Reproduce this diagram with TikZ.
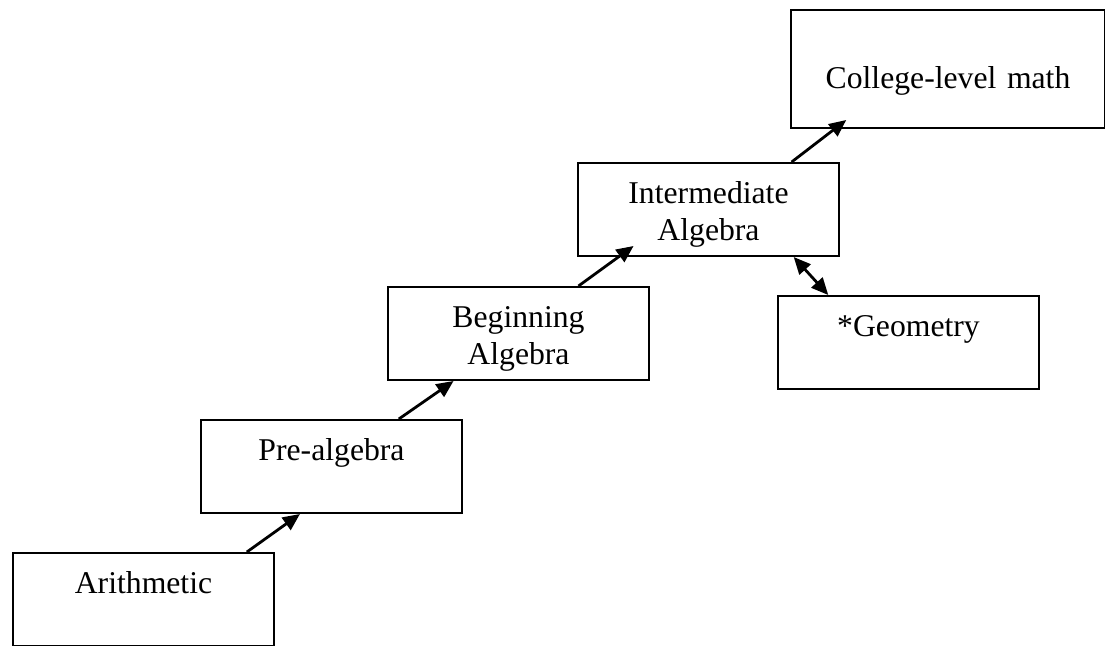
\documentclass[tikz,border=0pt]{standalone}
\usepackage{fontspec}
\setmainfont{Liberation Serif}
\usetikzlibrary{positioning,calc}
\usetikzlibrary{arrows.meta}

\begin{document}
\begin{tikzpicture}[x=0.5pt, y=-0.5pt,
    >={Triangle[length=8.5pt, width=7.5pt]},
    box/.style={draw, line width=1pt, inner sep=0pt, text width=130.5pt, align=center,
      text height=20pt, text depth=26.5pt, font=\fontsize{15.85pt}{18.5pt}\selectfont},
    climb/.style={line width=1.4pt, ->},
  ]
  \useasboundingbox (0,0) rectangle (1105,645);

    \node[box, anchor=north west] (arith) at (12,552) {Arithmetic};
    \node[box, anchor=north west] (prealg) at (200,419) {Pre-algebra};
    \node[box, anchor=north west] (begalg) at (387,286) {Beginning\\Algebra};
    \node[box, anchor=north west] (intalg) at (577,162) {Intermediate\\Algebra};
    \node[box, anchor=north west] (geom) at (777,295) {*Geometry};
    \node[box, anchor=north west, text width=157pt, text height=39pt, text depth=20pt]
      (college) at (790,9) {College-level math};

    \draw[climb] ($(arith.north west)!0.893!(arith.north east)$)
      -- ($(prealg.south west)!0.38!(prealg.south east)$);
    \draw[climb] ($(prealg.north west)!0.756!(prealg.north east)$)
      -- ($(begalg.south west)!0.253!(begalg.south east)$);
    \draw[climb] ($(begalg.north west)!0.728!(begalg.north east)$)
      -- ($(intalg.south west)!0.215!(intalg.south east) + (0,5.5pt)$);
    \draw[climb] ($(intalg.north west)!0.816!(intalg.north east)$)
      -- ($(college.south west)!0.178!(college.south east) + (0,4.5pt)$);
    \draw[climb, <->] ($(intalg.south west)!0.824!(intalg.south east)$)
      -- ($(geom.north west)!0.195!(geom.north east)$);
\end{tikzpicture}
\end{document}
